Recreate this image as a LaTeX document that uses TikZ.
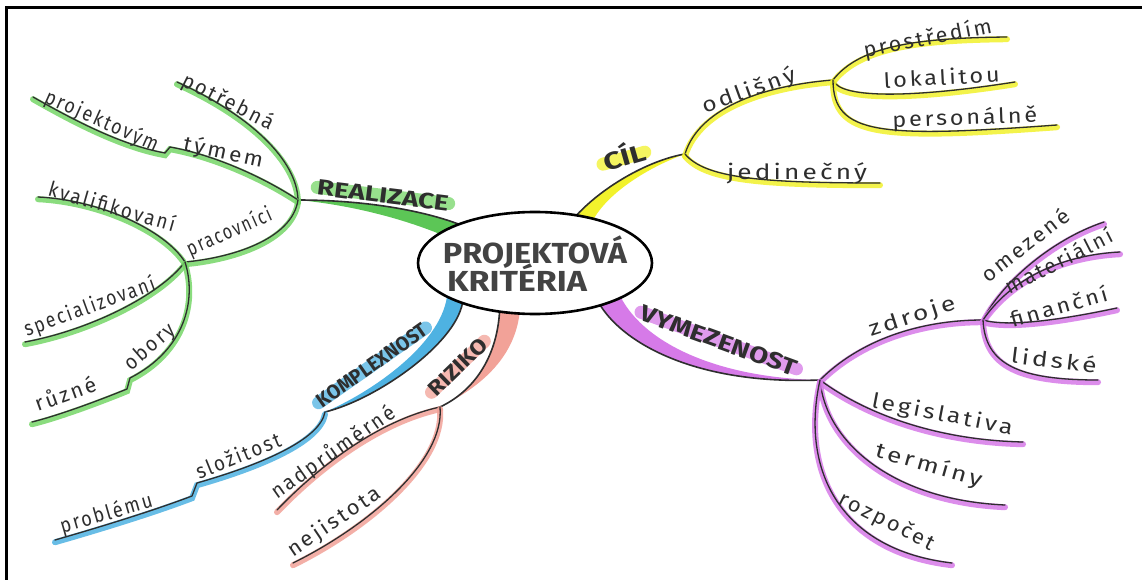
\documentclass[tikz,border=0pt]{standalone}
\usepackage{fontspec}
\usepackage{graphicx}
\setmainfont{Fira Sans}
\newfontfamily\hand{Fira Sans}[LetterSpace=12]
\usetikzlibrary{shapes.geometric}

\definecolor{inkc}{HTML}{2E2E2E}
\definecolor{hlgreen}{RGB}{118,214,104}
\definecolor{fillgreen}{RGB}{92,198,86}
\definecolor{hlyellow}{RGB}{242,242,44}
\definecolor{hlpurple}{RGB}{214,122,232}
\definecolor{hlblue}{RGB}{78,178,226}
\definecolor{hlpink}{RGB}{242,162,152}

\pgfdeclarelayer{paper}
\pgfdeclarelayer{under}
\pgfsetlayers{paper,under,main}

% squeeze or stretch a label to a given width, keeping its height
\newcommand\fitlab[2]{\resizebox{#1pt}{\height}{#2}}
% a twig: marker stroke under a thin pen line
\newcommand\twig[2]{\path[hl, draw=#1] #2; \path[ink] #2;}

\tikzset{
  ink/.style={draw=inkc, line width=1.3pt, line cap=round, line join=round},
  hl/.style={line width=6pt, line cap=round, opacity=.85, transform canvas={yshift=-2.2pt}},
  edge/.style={draw=inkc, line width=1.6pt, line cap=round},
  marker/.style={draw=#1, line width=13pt, line cap=round, opacity=.75},
  lbl/.style={text=inkc, inner sep=0pt, anchor=base, font=\hand\fontsize{21pt}{24pt}\selectfont},
  cap/.style={text=inkc, inner sep=0pt, anchor=base, font=\bfseries\fontsize{#1pt}{24pt}\selectfont},
  cap/.default=22,
  ctext/.style={text=inkc!90, inner sep=0pt, anchor=base, font=\bfseries\fontsize{29pt}{32pt}\selectfont},
  hub/.style={ellipse, inner sep=0pt, minimum width=234pt, minimum height=102pt}
}

\begin{document}
\begin{tikzpicture}[x=1pt, y=-1pt]
\useasboundingbox (0,0) rectangle (1142,580);
\begin{pgfonlayer}{paper}
\fill[white] (0,0) rectangle (1142,580);
\end{pgfonlayer}
% frame
\draw[line width=2.6pt] (6.5,580) -- (6.5,7.5) -- (1142,7.5);

% centre
\node[hub] (c) at (535,263) {};

% junctions and twig ends
\coordinate (gJ) at (298,200);
\coordinate (gPot) at (177,82);
\coordinate (gTy) at (170,147);
\coordinate (gPj) at (165,153);
\coordinate (gProj) at (33,97);
\coordinate (gSub) at (185,262);
\coordinate (gKv) at (38,197);
\coordinate (gSp) at (25,342);
\coordinate (gOb) at (130,378);
\coordinate (gRu) at (127,389);
\coordinate (gRuz) at (32,422);

\coordinate (bJ) at (325,412);
\coordinate (bSl) at (197,483);
\coordinate (bPb) at (192,496);
\coordinate (bProb) at (55,540);

\coordinate (pJ) at (440,407);
\coordinate (pNad) at (277,510);
\coordinate (pNej) at (293,563);

\coordinate (yJ) at (685,154);
\coordinate (yS) at (833,80);
\coordinate (yPro) at (1007,37);
\coordinate (yLok) at (1015,82);
\coordinate (yPer) at (1057,125);
\coordinate (yJed) at (880,183);

\coordinate (vJ) at (820,380);
\coordinate (vS) at (983,320);
\coordinate (vOm) at (1104,222);
\coordinate (vMat) at (1120,252);
\coordinate (vFin) at (1117,308);
\coordinate (vLid) at (1098,380);
\coordinate (vLeg) at (1023,442);
\coordinate (vTer) at (1005,505);
\coordinate (vRoz) at (952,563);

% thick main branches
\fill[fillgreen] (gJ) .. controls +(62,0) and +(-40,-15) .. (c.153) -- (c.163)
  .. controls +(-40,-16) and +(52,5) .. (gJ) -- cycle;
\draw[edge] (gJ) .. controls +(62,0) and +(-40,-15) .. (c.153);

\fill[hlyellow] (c.49) .. controls +(28,-30) and +(-35,6) .. (yJ)
  .. controls +(-33,12) and +(17,-29) .. (c.37) -- cycle;
\draw[edge] (c.49) .. controls +(28,-30) and +(-35,6) .. (yJ);

\fill[hlpurple] (c.-33) .. controls +(25,40) and +(-120,5) .. (vJ)
  .. controls +(-100,-2) and +(25,47) .. (c.-22) -- cycle;
\draw[edge] (c.-33) .. controls +(25,40) and +(-120,5) .. (vJ);

\fill[hlblue] (c.209) .. controls +(-8,42) and +(50,-12) .. (bJ)
  .. controls +(47,-20) and +(-7,48) .. (c.201) -- cycle;
\draw[edge] (c.209) .. controls +(-8,42) and +(50,-12) .. (bJ);

\fill[hlpink] (c.234) .. controls +(-3,48) and +(32,-15) .. (pJ)
  .. controls +(45,-22) and +(-5,41) .. (c.253) -- cycle;
\draw[edge] (c.234) .. controls +(-3,48) and +(32,-15) .. (pJ);

% green twigs
\twig{hlgreen}{(gJ) .. controls +(-1,-40) and +(73,33) .. (gPot)}
\twig{hlgreen}{(gJ) .. controls +(-33,-22) and +(45,8) .. (gTy) -- (gPj)
  .. controls +(-45,-8) and +(37,21) .. (gProj)}
\twig{hlgreen}{(gJ) .. controls +(-6,40) and +(45,-4) .. (gSub)}
\twig{hlgreen}{(gSub) .. controls +(-20,-32) and +(62,3) .. (gKv)}
\twig{hlgreen}{(gSub) .. controls +(-25,33) and +(65,-12) .. (gSp)}
\twig{hlgreen}{(gSub) .. controls +(12,38) and +(55,-28) .. (gOb) -- (gRu)
  .. controls +(-27,11) and +(28,-7) .. (gRuz)}

% blue twigs
\twig{hlblue}{(bJ) .. controls +(-5,28) and +(63,-18) .. (bSl) -- (bPb)
  .. controls +(-42,16) and +(35,-10) .. (bProb)}

% pink twigs
\twig{hlpink}{(pJ) .. controls +(-60,13) and +(43,-45) .. (pNad)}
\twig{hlpink}{(pJ) .. controls +(5,53) and +(77,-38) .. (pNej)}

% yellow twigs
\twig{hlyellow}{(yJ) .. controls +(15,-49) and +(-63,5) .. (yS)}
\twig{hlyellow}{(yS) .. controls +(27,-35) and +(-87,1) .. (yPro)}
\twig{hlyellow}{(yS) .. controls +(7,20) and +(-95,15) .. (yLok)}
\twig{hlyellow}{(yS) .. controls +(0,55) and +(-177,13) .. (yPer)}
\twig{hlyellow}{(yJ) .. controls +(20,24) and +(-120,0) .. (yJed)}

% purple twigs
\twig{hlpurple}{(vJ) .. controls +(40,-40) and +(-63,0) .. (vS)}
\twig{hlpurple}{(vS) .. controls +(17,-35) and +(-54,18) .. (vOm)}
\twig{hlpurple}{(vS) .. controls +(27,-40) and +(-60,3) .. (vMat)}
\twig{hlpurple}{(vS) .. controls +(27,8) and +(-47,10) .. (vFin)}
\twig{hlpurple}{(vS) .. controls +(2,45) and +(-78,0) .. (vLid)}
\twig{hlpurple}{(vJ) .. controls +(40,30) and +(-93,-2) .. (vLeg)}
\twig{hlpurple}{(vJ) .. controls +(5,60) and +(-115,-5) .. (vTer)}
\twig{hlpurple}{(vJ) .. controls +(-20,90) and +(-112,-13) .. (vRoz)}

% centre ring and title
\node[hub, draw=black, line width=2.6pt, fill=white] (ring) at (c) {};
\node[ctext] (t1) at (535,263) {\fitlab{184}{PROJEKTOVÁ}};
\node[ctext] (t2) at (517,291) {\fitlab{140}{KRITÉRIA}};

% main branch labels
\node[cap=22, rotate=-7] (lReal) at (382,203) {\fitlab{132}{REALIZACE}};
\node[cap=20, rotate=35] (lKom) at (376,371) {\fitlab{130}{KOMPLEXNOST}};
\node[cap=21, rotate=44] (lRiz) at (463,372) {\fitlab{73}{RIZIKO}};
\node[cap=24, rotate=16] (lCil) at (627,166) {\fitlab{43}{CÍL}};
\node[cap=23, rotate=-20] (lVym) at (716,348) {\fitlab{165}{VYMEZENOST}};

% marker strokes behind the capital labels
\begin{pgfonlayer}{under}
\path[marker=hlgreen] (lReal.west) -- (lReal.east);
\path[marker=hlblue] (lKom.west) -- (lKom.east);
\path[marker=hlpink] (lRiz.west) -- (lRiz.east);
\path[marker=hlyellow] ([yshift=-3pt]lCil.west) -- ([yshift=-3pt]lCil.east);
\path[marker=hlpurple] (lVym.west) -- (lVym.east);
\end{pgfonlayer}

% twig labels
\node[lbl, rotate=-27] (lPot) at (225,108) {\fitlab{100}{potřebná}};
\node[lbl, rotate=-12] (lTym) at (222,159) {\fitlab{81}{týmem}};
\node[lbl, rotate=-24] (lProj) at (99,127) {\fitlab{122}{projektovým}};
\node[lbl, rotate=24] (lPrac) at (232,238) {\fitlab{91}{pracovníci}};
\node[lbl, rotate=-16] (lKval) at (110,214) {\fitlab{131}{kvalifikovaní}};
\node[lbl, rotate=20] (lSpec) at (92,313) {\fitlab{138}{specializovaní}};
\node[lbl, rotate=41] (lOb) at (154,352) {\fitlab{60}{obory}};
\node[lbl, rotate=20] (lRuz) at (68,401) {\fitlab{64}{různé}};

\node[lbl, rotate=22] (lSlo) at (241,463) {\fitlab{90}{složitost}};
\node[lbl, rotate=16] (lProb) at (108,520) {\fitlab{95}{problému}};

\node[lbl, rotate=35] (lNad) at (337,458) {\fitlab{146}{nadprůměrné}};
\node[lbl, rotate=34] (lNej) at (338,527) {\fitlab{108}{nejistota}};

\node[lbl, rotate=20] (lOdl) at (751,97) {\fitlab{98}{odlišný}};
\node[lbl, rotate=11] (lPro) at (929,45) {\fitlab{130}{prostředím}};
\node[lbl, rotate=3] (lLok) at (942,85) {\fitlab{116}{lokalitou}};
\node[lbl, rotate=2] (lPer) at (965,125) {\fitlab{145}{personálně}};
\node[lbl] (lJed) at (797,180) {\fitlab{140}{jedinečný}};

\node[lbl, rotate=18] (lZdr) at (914,323) {\fitlab{90}{zdroje}};
\node[lbl, rotate=38] (lOme) at (1030,251) {\fitlab{105}{omezené}};
\node[lbl, rotate=27] (lMat) at (1062,268) {\fitlab{118}{materiální}};
\node[lbl, rotate=16] (lFin) at (1061,314) {\fitlab{100}{finanční}};
\node[lbl, rotate=-7] (lLid) at (1053,368) {\fitlab{86}{lidské}};
\node[lbl, rotate=-11] (lLeg) at (941,421) {\fitlab{143}{legislativa}};
\node[lbl, rotate=-16] (lTer) at (927,472) {\fitlab{110}{termíny}};
\node[lbl, rotate=-27] (lRoz) at (884,527) {\fitlab{104}{rozpočet}};
\end{tikzpicture}
\end{document}
